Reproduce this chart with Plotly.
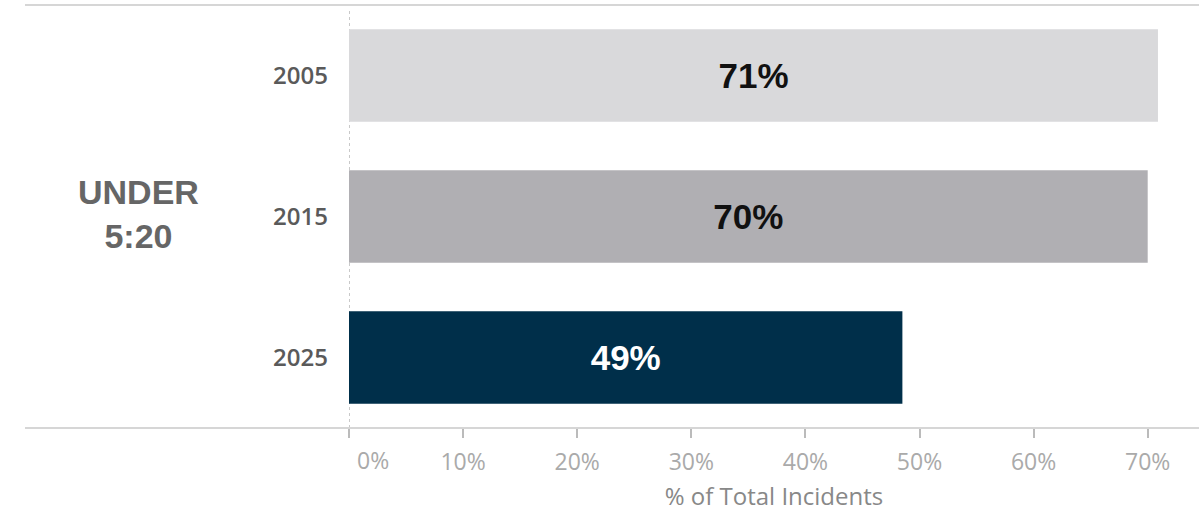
import plotly.graph_objects as go

years = ["2005", "2015", "2025"]
values = [70.9, 70.0, 48.5]
bar_colors = ["#d9d9db", "#b0afb3", "#002f4a"]
label_colors = ["#111111", "#111111", "#ffffff"]
tick_vals = [0, 10, 20, 30, 40, 50, 60, 70]
tick_text = ["", "10%", "20%", "30%", "40%", "50%", "60%", "70%"]
group_label = "UNDER<br>5:20"
x_title = "% of Total Incidents"

W, H = 1204, 512
ML, MR, MT, MB = 349, 5, 5, 84
plot_w = W - ML - MR
px_per_pct = 11.41
x_max = plot_w / px_per_pct

def paper_x(px):
    return (px - ML) / plot_w

fig = go.Figure()
fig.add_trace(go.Bar(
    y=years, x=values, orientation="h",
    marker=dict(color=bar_colors, line=dict(width=0)),
    texttemplate="<b>%{x:.0f}%</b>",
    textposition="inside", insidetextanchor="middle",
    textfont=dict(size=35, color=label_colors, family="Liberation Sans, Arial, sans-serif"),
    constraintext="none",
    hoverinfo="skip",
))

tick_font = dict(size=23, color="#aaaaaa", family="Open Sans, Liberation Sans, sans-serif")

fig.update_layout(
    width=W, height=H,
    margin=dict(l=ML, r=MR, t=MT, b=MB),
    plot_bgcolor="white", paper_bgcolor="white",
    bargap=0.345,
    showlegend=False,
    xaxis=dict(
        range=[0, x_max], tickvals=tick_vals, ticktext=tick_text,
        showgrid=False, zeroline=False, showline=False,
        ticks="outside", ticklen=9, tickcolor="#bbbbbb", tickwidth=1.5,
        tickfont=tick_font,
        ticklabelstandoff=4,
        title=dict(text=x_title, standoff=14,
                   font=dict(size=24, color="#888888", family="Open Sans, Liberation Sans, sans-serif")),
        fixedrange=True,
    ),
    yaxis=dict(
        categoryorder="array", categoryarray=years, autorange="reversed",
        showgrid=False, zeroline=False, showline=False, ticks="",
        tickfont=dict(size=24, color="#5a5a5a", family="Open Sans, Liberation Sans, sans-serif", weight=600),
        ticklabelstandoff=20,
        fixedrange=True,
    ),
)

# 0% label (offset right of tick as in reference)
fig.add_annotation(x=0, y=0, xref="x", yref="paper", text="0%", showarrow=False,
                   xanchor="left", yanchor="top", xshift=6, yshift=-14,
                   font=tick_font)

# group label
fig.add_annotation(x=paper_x(138), y=0.505, xref="paper", yref="paper", text="<b>" + group_label + "</b>",
                   showarrow=False, xanchor="center", yanchor="middle", align="center",
                   font=dict(size=34, color="#666666", family="Liberation Sans, Arial, sans-serif"))

# top border and bottom axis lines extending to the left
fig.add_shape(type="line", xref="paper", yref="paper", x0=paper_x(25), x1=paper_x(1199), y0=1, y1=1,
              line=dict(color="#d6d6d6", width=2))
fig.add_shape(type="line", xref="paper", yref="paper", x0=paper_x(25), x1=paper_x(1199), y0=0, y1=0,
              line=dict(color="#d6d6d6", width=2))
# dashed zero line
fig.add_shape(type="line", xref="x", yref="paper", x0=0, x1=0, y0=0, y1=0.99,
              line=dict(color="#b8b8b8", width=1.5, dash="3px,3px"), layer="below")

fig.write_html("out.html", config={"displayModeBar": False},
               post_script="document.body.style.margin='0';")
